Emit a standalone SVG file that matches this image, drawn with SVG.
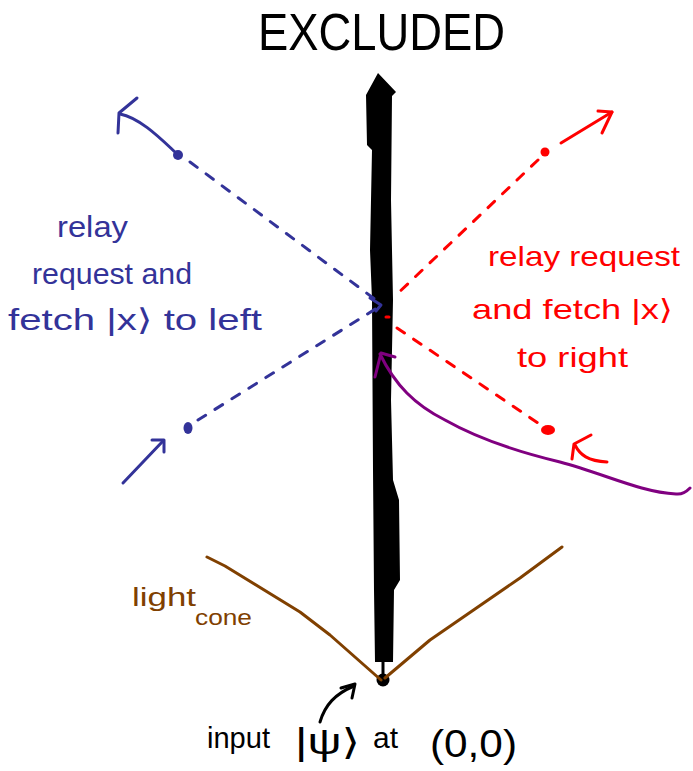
<svg xmlns="http://www.w3.org/2000/svg" width="693" height="771" viewBox="0 0 693 771">
<style>
.hand{font-family:"Liberation Sans","DejaVu Sans",sans-serif;}
.blue{fill:#333399;}
.red{fill:#ff0000;}
.brown{fill:#804000;}
.ln{fill:none;stroke-linecap:round;stroke-linejoin:round;stroke-width:3;}
.dash{stroke-dasharray:9 11;}
</style>
<rect width="693" height="771" fill="#ffffff"/>
<g id="title">
<text class="hand" x="258" y="50" font-size="52" textLength="247" lengthAdjust="spacingAndGlyphs" fill="#000">EXCLUDED</text>
</g>
<g id="worldline">
<path d="M378,73 L396,92 L392,96 L391,200 L393,300 L391,400 L393,480 L399,500 L400,580 L394,590 L393,662 L375,662 L374,590 L373,470 L372,300 L370,250 L372,150 L367,145 L366,95 Z" fill="#000"/>
<line x1="383" y1="660" x2="383" y2="676" stroke="#000" stroke-width="3"/>
<circle id="origin" cx="383" cy="680" r="6.5" fill="#000"/>
</g>
<g id="connectors">
<g id="blue-conn" stroke="#333399">
<path class="ln" d="M175,152 C160,138 140,118 120,114"/>
<path class="ln" d="M137,98 L119,113 L118,133"/>
<path class="ln dash" d="M190,162 L376,300"/>
<path class="ln" d="M370,298 L381,305 L376,311"/>
<path class="ln dash" d="M198,420 L377,308"/>
<path class="ln" d="M123,483 L163,441"/>
<path class="ln" d="M152,440 L164,440 L164,452"/>
</g>
<g id="red-conn" stroke="#ff0000">
<path class="ln" d="M561,143 L612,112"/>
<path class="ln" d="M598,111 L612,112 L602,133"/>
<path class="ln dash" d="M538,160 L394,297"/>
<path class="ln" d="M386,317 L389,317"/>
<path class="ln dash" d="M397,328 L538,423"/>
<path class="ln" d="M591,435 L574,444 L572,459"/>
<path class="ln" d="M575,445 C580,455 588,461 607,462"/>
</g>
<g id="purple-conn" stroke="#800080">
<path class="ln" d="M380,354 C395,385 415,405 445,420 C475,437 510,450 560,462 C605,474 640,492 676,494 C684,495 688,490 690,488"/>
<path class="ln" d="M395,357 L381,353 L375,377"/>
</g>
<g id="lightcone" stroke="#804000">
<path class="ln" d="M207,557 L225,566 L300,612 L330,635 L381,680"/>
<path class="ln" d="M385,678 L430,640 L475,609 L520,578 L562,547"/>
</g>
<g id="input-arrow" stroke="#000">
<path class="ln" d="M320,722 C325,705 335,694 354,686"/>
<path class="ln" d="M341,688 L355,684 L352,698"/>
</g>
</g>
<g id="left-events">
<circle cx="178" cy="155" r="5" fill="#333399"/>
<ellipse cx="188" cy="428" rx="4.5" ry="6" fill="#333399"/>
</g>
<g id="right-events">
<circle cx="545" cy="152" r="4.5" fill="#ff0000"/>
<ellipse cx="548" cy="430" rx="7" ry="5" fill="#ff0000"/>
</g>
<g id="left-label" class="hand blue">
<text x="57" y="237" font-size="30" textLength="71" lengthAdjust="spacingAndGlyphs">relay</text>
<text x="32" y="284" font-size="30" textLength="160" lengthAdjust="spacingAndGlyphs">request and</text>
<text x="8" y="330" font-size="30" textLength="254" lengthAdjust="spacingAndGlyphs">fetch |x⟩ to left</text>
</g>
<g id="right-label" class="hand red">
<text x="488" y="266" font-size="28" textLength="192" lengthAdjust="spacingAndGlyphs">relay request</text>
<text x="472" y="319" font-size="28" textLength="201" lengthAdjust="spacingAndGlyphs">and fetch |x⟩</text>
<text x="517" y="367" font-size="28" textLength="111" lengthAdjust="spacingAndGlyphs">to right</text>
</g>
<g id="cone-label" class="hand brown">
<text x="132" y="606" font-size="26" textLength="64" lengthAdjust="spacingAndGlyphs">light</text>
<text x="195" y="625" font-size="22" textLength="57" lengthAdjust="spacingAndGlyphs">cone</text>
</g>
<g id="input-label" class="hand" fill="#000">
<text x="207" y="748" font-size="29" textLength="63" lengthAdjust="spacingAndGlyphs">input</text>
<text x="295" y="754" font-size="36" textLength="65" lengthAdjust="spacingAndGlyphs">|ψ⟩</text>
<text x="373" y="748" font-size="29" textLength="25" lengthAdjust="spacingAndGlyphs">at</text>
<text x="430" y="757" font-size="38" textLength="87" lengthAdjust="spacingAndGlyphs">(0,0)</text>
</g>
</svg>
